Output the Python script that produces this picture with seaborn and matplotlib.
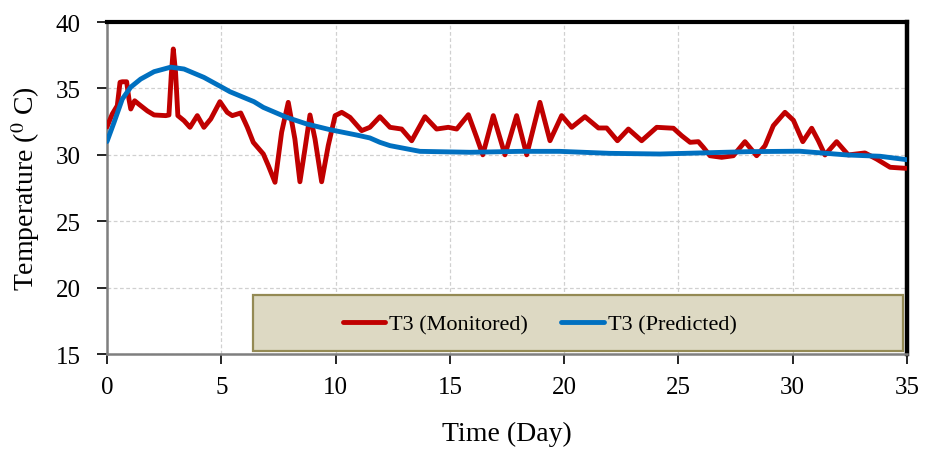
import matplotlib
matplotlib.use("Agg")
import matplotlib.pyplot as plt
from matplotlib.patches import Rectangle
import seaborn as sns
import pandas as pd

# Monitored temperature T3 (day, deg C)
monitored_day = [0.0, 0.23, 0.45, 0.57, 0.67, 0.86, 0.96, 1.04, 1.21, 1.4, 1.77, 2.06,
                 2.57, 2.71, 2.81, 2.9, 3.0, 3.1, 3.37, 3.63, 3.95, 4.24, 4.54, 4.94,
                 5.26, 5.48, 5.85, 6.04, 6.14, 6.4, 6.84, 7.06, 7.35, 7.64, 7.93, 8.22,
                 8.44, 8.66, 8.88, 9.1, 9.39, 9.68, 9.98, 10.27, 10.63, 11.14, 11.5,
                 11.94, 12.38, 12.89, 13.33, 13.91, 14.42, 14.93, 15.3, 15.81, 16.17,
                 16.44, 16.9, 17.41, 17.92, 18.36, 18.94, 19.38, 19.89, 20.33, 20.91,
                 21.5, 21.86, 22.33, 22.81, 23.39, 24.05, 24.78, 25.14, 25.51, 25.87,
                 26.09, 26.38, 26.89, 27.4, 27.91, 28.42, 28.79, 29.15, 29.66, 30.03,
                 30.44, 30.83, 31.12, 31.41, 31.92, 32.43, 33.16, 33.67, 34.26, 34.96]
monitored_temp = [32.1, 33.07, 33.7, 35.46, 35.5, 35.5, 34.2, 33.45, 34.07, 33.8, 33.3, 33.0,
                  32.95, 33.0, 35.96, 37.97, 36.2, 32.95, 32.57, 32.07, 32.95, 32.07, 32.7, 34.0,
                  33.2, 32.95, 33.15, 32.45, 32.07, 30.94, 30.06, 29.18, 27.93, 31.7, 33.95, 31.19,
                  27.97, 30.44, 33.0, 31.19, 27.97, 30.7, 32.95, 33.2, 32.82, 31.82, 32.07,
                  32.87, 32.07, 31.94, 31.06, 32.87, 31.94, 32.07, 31.94, 33.02, 31.32,
                  30.0, 32.95, 30.0, 32.95, 30.0, 33.95, 31.06, 32.95, 32.07, 32.87,
                  32.02, 32.02, 31.06, 31.94, 31.06, 32.07, 32.0, 31.44, 30.94, 30.99,
                  30.56, 29.93, 29.81, 29.93, 30.99, 29.93, 30.69, 32.19, 33.2, 32.6,
                  30.99, 32.0, 31.06, 29.99, 30.99, 29.99, 30.14, 29.68, 29.06, 28.98]

# Predicted temperature T3 (day, deg C)
predicted_day = [0.0, 0.31, 0.67, 1.04, 1.47, 2.06, 2.79, 3.37, 4.24, 5.12, 5.38, 6.43,
                 6.84, 7.86, 8.74, 9.76, 10.92, 11.5, 11.94, 12.38, 13.69, 15.88, 18.07,
                 19.8, 22.0, 24.19, 25.94, 28.12, 30.3, 32.36, 33.82, 35.0]
predicted_temp = [31.0, 32.45, 34.2, 35.1, 35.7, 36.26, 36.6, 36.46, 35.83, 35.0, 34.75, 34.0,
                  33.57, 32.82, 32.32, 31.89, 31.49, 31.27, 30.94, 30.69, 30.26, 30.19, 30.26,
                  30.26, 30.11, 30.06, 30.14, 30.24, 30.27, 29.99, 29.89, 29.63]

x_ticks = [0, 5, 10, 15, 20, 25, 30, 35]
y_ticks = [15, 20, 25, 30, 35, 40]
series_labels = ["T3 (Monitored)", "T3 (Predicted)"]

sns.set_style("white")
plt.rcParams["font.family"] = ["Liberation Serif", "DejaVu Serif"]
plt.rcParams["mathtext.fontset"] = "stix"
plt.rcParams["text.color"] = "black"
plt.rcParams["axes.labelcolor"] = "black"
plt.rcParams["xtick.color"] = "black"
plt.rcParams["ytick.color"] = "black"

fig = plt.figure(figsize=(9.28, 4.52), dpi=100)
ax = fig.add_axes([0.1153, 0.2146, 0.8621, 0.7345])

mon = pd.DataFrame({"day": monitored_day, "temp": monitored_temp})
pred = pd.DataFrame({"day": predicted_day, "temp": predicted_temp})

sns.lineplot(data=mon, x="day", y="temp", ax=ax, color="#c00000", linewidth=3.5,
             label=series_labels[0], zorder=3, sort=False)
sns.lineplot(data=pred, x="day", y="temp", ax=ax, color="#0070c0", linewidth=3.5,
             label=series_labels[1], zorder=4, sort=False)
for line in ax.get_lines():
    line.set_solid_joinstyle("round")
    line.set_solid_capstyle("round")

ax.set_xlim(0, 35)
ax.set_ylim(15, 40)
ax.set_xticks(x_ticks)
ax.set_yticks(y_ticks)
ax.grid(True, color="#d0d0d0", linestyle=(0, (3, 2)), linewidth=0.9)
ax.tick_params(axis="both", which="major", labelsize=18, direction="out",
               length=7, width=1.2, color="black", left=True, bottom=True)
ax.tick_params(axis="x", pad=9)
ax.tick_params(axis="y", pad=12)

ax.set_xlabel("Time (Day)", fontsize=20, labelpad=16)
ax.set_ylabel(r"Temperature ($^{0}$ C)", fontsize=20, labelpad=10)

for side in ("left", "bottom"):
    ax.spines[side].set_color("#7f7f7f")
    ax.spines[side].set_linewidth(1.8)
ax.spines["top"].set_color("black")
ax.spines["top"].set_linewidth(3.0)
ax.spines["right"].set_color("black")
ax.spines["right"].set_linewidth(3.2)

# Legend panel
panel = Rectangle((0.1825, 0.01), 0.8125, 0.168, transform=ax.transAxes,
                  facecolor="#ddd9c3", edgecolor="#948a54", linewidth=1.6, zorder=5)
ax.add_patch(panel)
leg = ax.legend(loc="center", bbox_to_anchor=(0.541, 0.09), ncol=2, frameon=False,
                fontsize=16, handlelength=1.9, handletextpad=0.2, columnspacing=1.5)
leg.set_zorder(6)

fig.savefig("out.png", dpi=100)
